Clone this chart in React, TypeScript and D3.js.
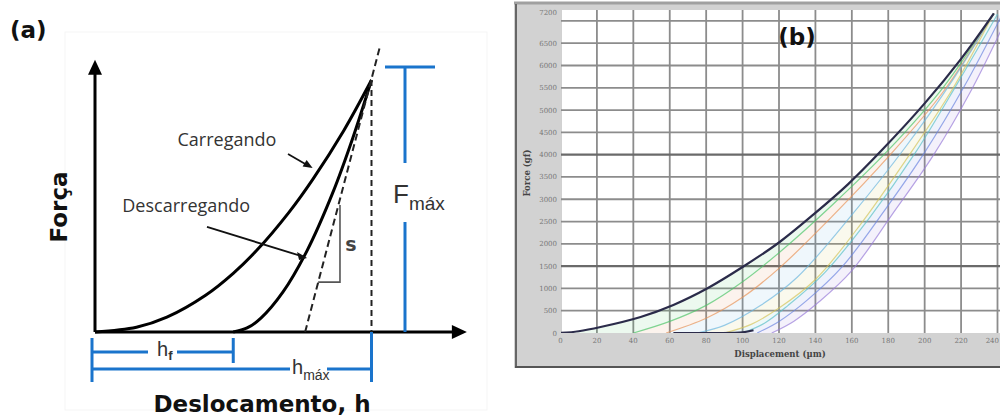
import * as d3 from "d3";

// ---------- (a) esquema carga / descarga ----------
const loadH = [0, 1.5, 2.6, 4, 5, 5.85, 7, 7.87, 9, 10];
const loadF = [0, 0.19, 0.59, 1.46, 2.33, 3.24, 4.73, 6.05, 8.0, 10];
const unloadH = [5.0, 5.5, 6.0, 6.8, 7.67, 8.6, 9.33, 10];
const unloadF = [0, 0.16, 0.55, 1.59, 3.23, 5.53, 7.72, 10];
const tangentH = [7.6, 10.3];
const tangentF = [0, 11.3];
const hf = 5.0;
const hmax = 10;
const fmax = 10;

// ---------- (b) ensaio real ----------
const envH = [0, 10, 22, 44, 62, 81, 100, 120, 139, 158, 176, 200, 220, 238];
const envF = [0, 40, 135, 360, 630, 1010, 1480, 2030, 2660, 3340, 4080, 5150, 6150, 7170];

const curveGreen: [number, number][] = [[40, 0], [60, 260], [80, 620], [100, 1150], [120, 1800], [150, 2900], [180, 4100], [210, 5500], [238, 7170]];
const curveOrange: [number, number][] = [[58, 0], [80, 330], [100, 800], [120, 1450], [150, 2650], [180, 3950], [210, 5400], [238, 7170]];
const curveLightBlue: [number, number][] = [[75, 0], [90, 170], [110, 620], [130, 1250], [160, 2650], [190, 4200], [215, 5650], [238, 7170]];
const curveYellow: [number, number][] = [[90, 0], [105, 200], [120, 560], [140, 1200], [165, 2450], [190, 3900], [215, 5450], [238, 7170]];
const curveCyan: [number, number][] = [[100, 0], [112, 220], [125, 620], [145, 1350], [170, 2600], [195, 4050], [218, 5600], [240, 7150]];
const curveBlue: [number, number][] = [[108, 0], [120, 260], [135, 720], [155, 1500], [178, 2750], [200, 4050], [222, 5550], [242, 7100]];
const curvePurple: [number, number][] = [[116, 0], [128, 260], [142, 700], [160, 1400], [182, 2650], [205, 4000], [225, 5400], [245, 7050]];
const residual: [number, number][] = [[62, 0], [85, 0], [100, 15], [106, 60]];

const curveColors = ["#4fc46a", "#e8945a", "#6db6e0", "#d6c55a", "#5cc0c8", "#6e86e0", "#9a7ed8"];

const xTicks = [0, 20, 40, 60, 80, 100, 120, 140, 160, 180, 200, 220, 240];
const yTicks = [0, 500, 1000, 1500, 2000, 2500, 3000, 3500, 4000, 4500, 5000, 5500, 6000, 6500];
const yGrid = [500, 1000, 1500, 2000, 2500, 3000, 3500, 4000, 4500, 5000, 5500, 6000, 6500, 7000];
const yMaxLabel = 7200;

const blue = "#1a74cc";

export default function App() {
    const W = 1000;
    const H = 419;

    /*---------- (a) ----------*/
    const xA = d3.scaleLinear().domain([0, 10]).range([95, 371.5]);
    const yA = d3.scaleLinear().domain([0, 10]).range([332, 80]);

    const loadPts = loadH.map((h, i) => [xA(h), yA(loadF[i])] as [number, number]);
    const unloadPts = unloadH.map((h, i) => [xA(h), yA(unloadF[i])] as [number, number]);
    const lineAP = d3.line().curve(d3.curveCatmullRom);

    const x0 = xA(0), y0 = yA(0);
    const yTop = yA(10.8);
    const xEnd = xA(13.45);

    /*---------- (b) ----------*/
    const xB = d3.scaleLinear().domain([0, 240]).range([560.5, 997.5]);
    const yB = d3.scaleLinear().domain([0, 7200]).range([333, 12]);
    const lineB = d3.line<[number, number]>()
        .x(d => xB(d[0]))
        .y(d => yB(d[1]))
        .curve(d3.curveCatmullRom);

    const envelope: [number, number][] = envH.map((h, i) => [h, envF[i]]);
    const curves = [curveGreen, curveOrange, curveLightBlue, curveYellow, curveCyan, curveBlue, curvePurple];
    const bands = curves.map((c, i) => {
        const prev = i === 0 ? envelope : curves[i - 1];
        const a = lineB(prev) || "";
        const b = (lineB([...c].reverse()) || "").replace(/^M/, "L");
        return a + b + "Z";
    });

    const plotL = 561, plotT = 10, plotB = 333;

    return (
        <svg width={W} height={H} style={{ position: "absolute", left: 0, top: 0, background: "#fff" }}>
            <defs>
                <clipPath id="plotB">
                    <rect x={plotL} y={plotT} width={W - plotL} height={plotB - plotT} />
                </clipPath>
            </defs>

            {/* ================= (a) ================= */}
            <rect x={65} y={32} width={422} height={378} fill="none" stroke="#f5f5f5" />
            <text x={10} y={38} fontFamily="DejaVu Sans" fontWeight="bold" fontSize={23} fill="#111">(a)</text>

            {/* eixos */}
            <line x1={x0} y1={y0} x2={x0} y2={yTop + 12} stroke="#000" strokeWidth={3} />
            <path d={`M${x0},${yTop} L${x0 - 7},${yTop + 15} L${x0 + 7},${yTop + 15} Z`} fill="#000" />
            <line x1={x0} y1={y0} x2={xEnd - 12} y2={y0} stroke="#000" strokeWidth={3} />
            <path d={`M${xEnd},${y0} L${xEnd - 15},${y0 - 7} L${xEnd - 15},${y0 + 7} Z`} fill="#000" />

            {/* curvas */}
            <path d={lineAP(loadPts) || ""} fill="none" stroke="#000" strokeWidth={3} />
            <path d={lineAP(unloadPts) || ""} fill="none" stroke="#000" strokeWidth={3} />

            {/* tangente e hmax tracejados */}
            <line x1={xA(tangentH[0])} y1={yA(tangentF[0])} x2={xA(tangentH[1])} y2={yA(tangentF[1])}
                stroke="#222" strokeWidth={2} strokeDasharray="7,4" />
            <line x1={xA(hmax)} y1={yA(fmax)} x2={xA(hmax)} y2={y0}
                stroke="#222" strokeWidth={2} strokeDasharray="6,4" />

            {/* triângulo S */}
            <path d={`M${xA(8.07)},${yA(1.98)} L${xA(8.86)},${yA(1.98)} L${xA(8.86)},${yA(5.04)}`}
                fill="none" stroke="#555" strokeWidth={1.6} />
            <text x={xA(9.05)} y={yA(3.2)} fontFamily="DejaVu Sans" fontWeight="bold" fontSize={19} fill="#444">s</text>

            {/* rótulos */}
            <text x={xA(4.77)} y={yA(7.62) + 6} textAnchor="middle" fontFamily="Open Sans" fontSize={18} fill="#333">Carregando</text>
            <line x1={xA(6.98)} y1={yA(7.06)} x2={xA(7.87) - 3} y2={yA(6.51) - 1.5} stroke="#111" strokeWidth={1.8} />
            <path d={`M${xA(7.87)},${yA(6.51)} L${xA(7.87) - 10},${yA(6.51) - 1.5} L${xA(7.87) - 6},${yA(6.51) - 8} Z`} fill="#111" />

            <text x={xA(3.3)} y={yA(5.0) + 6} textAnchor="middle" fontFamily="Open Sans" fontSize={18} fill="#333">Descarregando</text>
            <line x1={xA(4.05)} y1={yA(4.17)} x2={xA(7.67) - 3} y2={yA(2.94) - 1} stroke="#111" strokeWidth={1.8} />
            <path d={`M${xA(7.67)},${yA(2.94)} L${xA(7.67) - 10},${yA(2.94) - 6} L${xA(7.67) - 8},${yA(2.94) + 2} Z`} fill="#111" />

            <text transform={`translate(67,207) rotate(-90)`} textAnchor="middle" fontFamily="DejaVu Sans" fontWeight="bold" fontSize={23} fill="#111">Força</text>
            <text x={262} y={412} textAnchor="middle" fontFamily="DejaVu Sans" fontWeight="bold" fontSize={23} fill="#111">Deslocamento, h</text>

            {/* Fmáx */}
            <line x1={385} y1={yA(fmax) - 13} x2={435} y2={yA(fmax) - 13} stroke={blue} strokeWidth={3} />
            <line x1={405} y1={yA(fmax) - 13} x2={405} y2={163} stroke={blue} strokeWidth={3} />
            <line x1={405} y1={222} x2={405} y2={y0} stroke={blue} strokeWidth={3} />
            <text x={393} y={203} fontFamily="Liberation Sans" fontSize={26} fill="#333">F
                <tspan dy={7} fontSize={19}>máx</tspan>
            </text>

            {/* hf */}
            <line x1={x0 - 3} y1={338} x2={x0 - 3} y2={382} stroke={blue} strokeWidth={3} />
            <line x1={x0 - 3} y1={352} x2={148} y2={352} stroke={blue} strokeWidth={3} />
            <line x1={177} y1={352} x2={xA(hf)} y2={352} stroke={blue} strokeWidth={3} />
            <line x1={xA(hf)} y1={338} x2={xA(hf)} y2={363} stroke={blue} strokeWidth={3} />
            <text x={157} y={356} fontFamily="Liberation Sans" fontSize={20} fill="#333">h
                <tspan dy={4} fontSize={13} fontWeight="bold">f</tspan>
            </text>

            {/* hmáx */}
            <line x1={x0 - 3} y1={369} x2={290} y2={369} stroke={blue} strokeWidth={3} />
            <line x1={327} y1={369} x2={xA(hmax)} y2={369} stroke={blue} strokeWidth={3} />
            <line x1={xA(hmax)} y1={y0} x2={xA(hmax)} y2={382} stroke={blue} strokeWidth={3} />
            <text x={292} y={374} fontFamily="Liberation Sans" fontSize={20} fill="#333">h
                <tspan dy={6} fontSize={14}>máx</tspan>
            </text>

            {/* ================= (b) ================= */}
            <rect x={514} y={3} width={W - 514} height={365} fill="#d2d2d2" />
            <line x1={514} y1={3} x2={W} y2={3} stroke="#a0a0a0" strokeWidth={3} />
            <line x1={516} y1={4} x2={516} y2={367} stroke="#666" strokeWidth={2} />
            <line x1={515} y1={367} x2={W} y2={367} stroke="#555" strokeWidth={2} />
            <rect x={plotL} y={plotT} width={W - plotL} height={plotB - plotT} fill="#fff" />

            <g clipPath="url(#plotB)">
                {xTicks.map(t => (
                    <line key={"gx" + t} x1={xB(t)} y1={plotT} x2={xB(t)} y2={plotB} stroke="#8c8c8c" strokeWidth={1.8} />
                ))}
                {yGrid.map(t => (
                    <line key={"gy" + t} x1={plotL} y1={yB(t)} x2={W} y2={yB(t)}
                        stroke={t === 1500 || t === 4000 ? "#6a6a6a" : "#8c8c8c"}
                        strokeWidth={t === 1500 || t === 4000 ? 2.4 : 1.8} />
                ))}

                {bands.map((d, i) => (
                    <path key={"band" + i} d={d} fill={curveColors[i]} opacity={0.11} stroke="none" />
                ))}
                {curves.map((c, i) => (
                    <path key={"c" + i} d={lineB(c) || ""} fill="none" stroke={curveColors[i]} strokeWidth={1.2} opacity={0.7} />
                ))}
                <path d={lineB(residual) || ""} fill="none" stroke="#2b2b4a" strokeWidth={2} />
                <path d={lineB(envelope) || ""} fill="none" stroke="#2b2b4a" strokeWidth={2.2} />
            </g>

            {xTicks.map((t, i) => (
                <text key={"tx" + t} x={i === xTicks.length - 1 ? 999 : xB(t)} y={343}
                    textAnchor={i === xTicks.length - 1 ? "end" : "middle"}
                    fontFamily="DejaVu Serif" fontSize={7} fill="#777">{t}</text>
            ))}
            {yTicks.map(t => (
                <text key={"ty" + t} x={557} y={yB(t) + 2.5} textAnchor="end" fontFamily="DejaVu Serif" fontSize={7} fill="#777">{t}</text>
            ))}
            <text x={557} y={yB(yMaxLabel) + 2.5} textAnchor="end" fontFamily="DejaVu Serif" fontSize={7} fill="#777">{yMaxLabel}</text>

            <text x={780} y={357} textAnchor="middle" fontFamily="DejaVu Serif" fontWeight="bold" fontSize={8.5} fill="#444">Displacement (µm)</text>
            <text transform="translate(530,173) rotate(-90)" textAnchor="middle" fontFamily="DejaVu Serif" fontWeight="bold" fontSize={8.5} fill="#444">Force (gf)</text>

            <text x={797} y={45} textAnchor="middle" fontFamily="DejaVu Sans" fontWeight="bold" fontSize={23} fill="#111">(b)</text>
        </svg>
    );
}
